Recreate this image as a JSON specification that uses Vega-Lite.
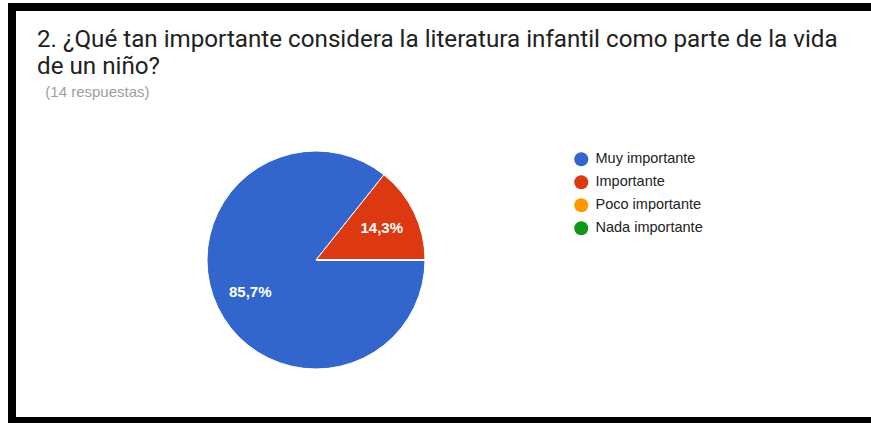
{
  "$schema": "https://vega.github.io/schema/vega-lite/v6.json",
  "autosize": "none",
  "width": 863,
  "height": 414,
  "padding": {"left": 12, "top": 7, "right": -4, "bottom": 2},
  "background": "white",
  "config": {
    "view": {"stroke": "black", "strokeWidth": 8, "fill": "white"},
    "locale": {"number": {"decimal": ",", "thousands": ".", "grouping": [3], "currency": ["", " €"]}}
  },
  "title": {
    "text": ["2. ¿Qué tan importante considera la literatura infantil como parte de la vida", "de un niño?"],
    "subtitle": "\u200b\u00a0\u00a0(14 respuestas)",
    "anchor": "start",
    "frame": "group",
    "orient": "top",
    "offset": -93,
    "dx": 25,
    "font": "Roboto",
    "fontSize": 24.2,
    "fontWeight": "normal",
    "color": "#212121",
    "lineHeight": 27,
    "subtitleFont": "Liberation Sans",
    "subtitleFontSize": 15,
    "subtitleColor": "#9e9e9e",
    "subtitlePadding": 6
  },
  "data": {
    "values": [
      {"respuesta": "Muy importante", "respuestas": 12, "porcentaje": 0.857, "orden": 1},
      {"respuesta": "Importante", "respuestas": 2, "porcentaje": 0.143, "orden": 2},
      {"respuesta": "Poco importante", "respuestas": 0, "porcentaje": 0, "orden": 3},
      {"respuesta": "Nada importante", "respuestas": 0, "porcentaje": 0, "orden": 4}
    ]
  },
  "encoding": {
    "theta": {"field": "respuestas", "type": "quantitative", "stack": true, "scale": {"range": [1.5707963, 7.8539816]}},
    "order": {"field": "orden", "type": "quantitative"},
    "x": {"value": 304},
    "y": {"value": 253}
  },
  "layer": [
    {
      "mark": {"type": "arc", "outerRadius": 109, "stroke": "white", "strokeWidth": 1},
      "encoding": {
        "color": {
          "field": "respuesta",
          "type": "nominal",
          "scale": {
            "domain": ["Muy importante", "Importante", "Poco importante", "Nada importante"],
            "range": ["#3366CC", "#DC3912", "#FF9900", "#109618"]
          },
          "legend": {
            "title": null,
            "orient": "none",
            "legendX": 562,
            "legendY": 145,
            "padding": 0,
            "symbolType": "circle",
            "symbolSize": 196,
            "symbolStrokeWidth": 0,
            "rowPadding": 7,
            "labelOffset": 7,
            "labelFont": "Liberation Sans",
            "labelFontSize": 14.5,
            "labelColor": "#222222"
          }
        }
      }
    },
    {
      "transform": [{"filter": "datum.respuestas > 0"}],
      "mark": {"type": "text", "radius": 73, "font": "Liberation Sans", "fontSize": 15, "fontWeight": "bold", "color": "white"},
      "encoding": {
        "text": {"field": "porcentaje", "type": "quantitative", "format": ".1%"}
      }
    }
  ]
}
